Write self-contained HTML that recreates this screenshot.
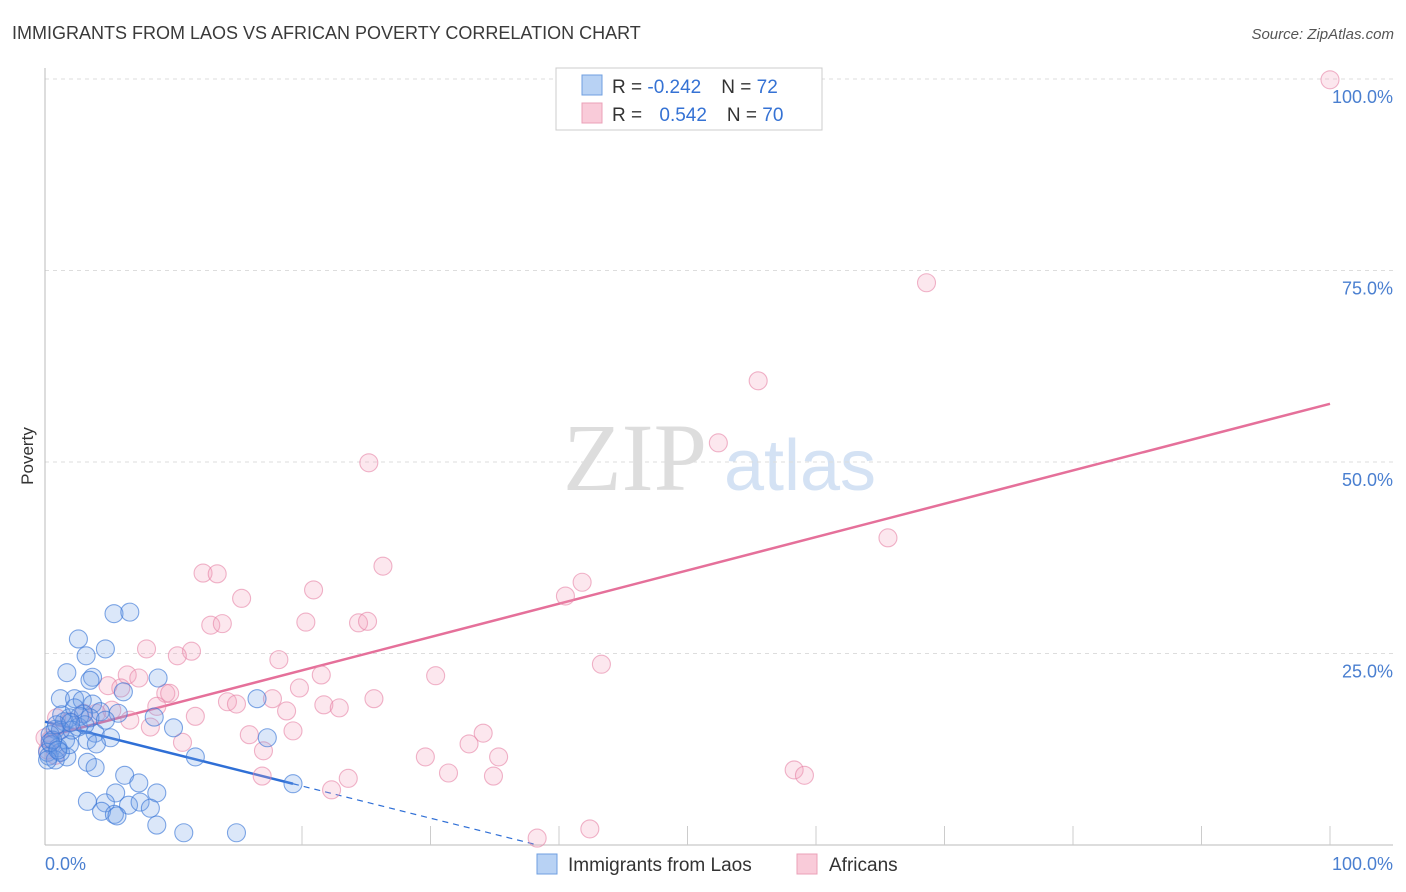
<!DOCTYPE html>
<html><head><meta charset="utf-8"><style>
body{margin:0;background:#fff;font-family:"Liberation Sans",sans-serif;}
svg{display:block}
</style></head><body>
<svg id="chart" width="1406" height="892" xmlns="http://www.w3.org/2000/svg">
<text x="12" y="39" font-size="18" fill="#3a3a3a">IMMIGRANTS FROM LAOS VS AFRICAN POVERTY CORRELATION CHART</text>
<text x="1394" y="39" font-size="15" fill="#555" text-anchor="end" font-style="italic">Source: ZipAtlas.com</text>
<text transform="translate(33,456) rotate(-90)" font-size="17" fill="#333" text-anchor="middle">Poverty</text>
<g>
<text x="635" y="490" font-size="96" fill="#ddd" font-family="Liberation Serif,serif" text-anchor="middle">ZIP</text>
<text x="800" y="490" font-size="72" fill="#d4e2f4" text-anchor="middle">atlas</text>
</g>
<g id="grid"></g><g id="axes"></g><g id="trends"></g><g id="points"></g>
<g>
<rect x="556" y="68" width="266" height="62" fill="#fff" stroke="#ccc"/>
<rect x="582" y="75" width="20" height="20" fill="#b8d2f4" stroke="#6f9fe0"/>
<rect x="582" y="103" width="20" height="20" fill="#f9cbd9" stroke="#eba0b8"/>
<text x="612" y="93" font-size="19" fill="#333">R = <tspan fill="#3572d4">-0.242</tspan><tspan dx="20">N = </tspan><tspan fill="#3572d4">72</tspan></text>
<text x="612" y="121" font-size="19" fill="#333">R = <tspan fill="#3572d4" dx="12">0.542</tspan><tspan dx="20">N = </tspan><tspan fill="#3572d4">70</tspan></text>
</g>
<g>
<rect x="537" y="854" width="20" height="20" fill="#b8d2f4" stroke="#6f9fe0"/>
<text x="568" y="871" font-size="19" fill="#333">Immigrants from Laos</text>
<rect x="797" y="854" width="20" height="20" fill="#f9cbd9" stroke="#eba0b8"/>
<text x="829" y="871" font-size="19" fill="#333">Africans</text>
</g>
</svg>
<script>
const laosX=[5.37,6.6,2.6,4.7,3.2,1.7,3.7,3.5,6.1,1.2,2.3,2.9,3.7,8.8,16.5,5.7,8.5,1.9,3.0,4.3,1.5,2.6,10.0,0.8,1.2,3.9,5.1,3.3,4.0,1.6,0.4,0.5,1.0,0.2,0.3,1.7,11.7,3.3,3.9,17.3,6.2,7.3,5.5,8.7,3.3,4.7,6.5,4.4,7.4,8.2,5.4,8.7,10.8,14.9,19.3,0.8,1.2,0.4,1.9,1.3,2.7,3.5,2.3,0.2,0.6,0.9,2.1,3.1,4.7,5.6,2.0,1.0];
const laosY=[30.2,30.4,26.9,25.6,24.7,22.5,21.9,21.5,20.0,19.1,19.1,18.9,18.4,21.8,19.1,17.2,16.7,16.6,17.1,17.4,16.1,15.4,15.3,15.1,15.0,14.6,14.0,13.7,13.2,13.7,14.4,13.1,12.7,12.1,11.6,11.5,11.5,10.8,10.1,14.0,9.1,8.1,6.8,6.8,5.7,5.5,5.2,4.4,5.6,4.8,4.0,2.6,1.6,1.6,8.0,11.1,12.1,13.4,13.1,17.0,16.8,16.6,17.9,11.1,13.7,15.7,15.0,15.7,16.3,3.8,16.0,12.4];
const afrX=[100,68.6,55.5,52.4,25.2,65.6,26.3,41.8,12.3,13.4,15.3,20.9,40.5,12.9,13.8,20.3,24.4,25.1,7.9,11.4,10.3,18.2,43.3,6.4,7.3,21.5,30.4,19.8,4.9,5.9,9.4,9.7,17.7,25.6,14.2,14.9,8.7,18.8,21.7,22.9,5.2,4.0,3.0,11.7,6.6,8.2,15.9,19.3,34.1,10.7,33.0,17.0,35.3,29.6,31.4,34.9,23.6,16.9,58.3,59.1,22.3,42.4,38.3,0.9,1.2,0.4,0.8,0.2,1.9,0];
const afrY=[99.9,73.4,60.6,52.5,49.9,40.1,36.4,34.3,35.5,35.4,32.2,33.3,32.5,28.7,28.9,29.1,29.0,29.2,25.6,25.3,24.7,24.2,23.6,22.2,21.8,22.2,22.1,20.5,20.8,20.5,19.8,19.8,19.1,19.1,18.7,18.4,18.1,17.5,18.3,17.9,17.6,17.2,17.2,16.8,16.3,15.4,14.4,14.9,14.6,13.4,13.2,12.3,11.5,11.5,9.4,9.0,8.7,9.0,9.8,9.1,7.2,2.1,0.9,16.6,15.0,13.7,11.7,12.4,16.1,14.0];
const trendIntercept=[16.1,14.1];
const trendSlope=[-0.42,0.435];
const yTicks=[25,50,75,100];
const yTickLabels=["25.0%","50.0%","75.0%","100.0%"];
const xTicks=[20,30,40,50,60,70,80,90,100];

const NS="http://www.w3.org/2000/svg";
const sx=v=>45+v*12.85;
const sy=v=>845-v*7.66;
function mk(tag,attrs,parent){const e=document.createElementNS(NS,tag);for(const k in attrs)e.setAttribute(k,attrs[k]);parent.appendChild(e);return e;}
const grid=document.getElementById('grid'),axes=document.getElementById('axes'),trends=document.getElementById('trends'),pts=document.getElementById('points');
yTicks.forEach((t,i)=>{
 const l=mk('line',{x1:45,x2:1393,y1:sy(t),y2:sy(t),stroke:'#ddd','stroke-dasharray':'4,4'},grid);
 
 
 const tx=mk('text',{x:1393,y:sy(t)+24,'font-size':18,fill:'#4a7fd0','text-anchor':'end'},grid);
 tx.textContent=yTickLabels[i];
 
 
});
const xa=mk('line',{x1:45,x2:1393,y1:845,y2:845,stroke:'#bbb'},axes);


const ya=mk('line',{x1:45,x2:45,y1:68,y2:845,stroke:'#bbb'},axes);


xTicks.forEach(t=>{const l=mk('line',{x1:sx(t),x2:sx(t),y1:826,y2:845,stroke:'#ccc'},axes);
 
 });
const x0=mk('text',{x:45,y:870,'font-size':18,fill:'#4a7fd0'},axes);x0.textContent='0.0%';


const x1=mk('text',{x:1393,y:870,'font-size':18,fill:'#4a7fd0','text-anchor':'end'},axes);x1.textContent='100.0%';



function dots(xs,ys,fill,stroke,name){xs.forEach((x,i)=>{const c=mk('circle',{cx:sx(x),cy:sy(ys[i]),r:9,fill:fill,stroke:stroke,'stroke-width':1.1},pts);
 
 });}
dots(afrX,afrY,'rgba(242,160,188,0.25)','rgba(230,130,165,0.6)','africans-point');
dots(laosX,laosY,'rgba(110,160,230,0.25)','rgba(60,120,215,0.65)','laos-point');

const bmax=Math.max(...laosX);
const bl=mk('line',{x1:sx(0),y1:sy(trendIntercept[0]),x2:sx(bmax),y2:sy(trendIntercept[0]+trendSlope[0]*bmax),stroke:'#2f6fd6','stroke-width':2.5},trends);


const xz=-trendIntercept[0]/trendSlope[0];
const bd=mk('line',{x1:sx(bmax),y1:sy(trendIntercept[0]+trendSlope[0]*bmax),x2:sx(xz),y2:sy(0),stroke:'#2f6fd6','stroke-width':1.2,'stroke-dasharray':'6,5'},trends);


const pl=mk('line',{x1:sx(0),y1:sy(trendIntercept[1]),x2:sx(100),y2:sy(trendIntercept[1]+trendSlope[1]*100),stroke:'#e5709a','stroke-width':2.5},trends);


</script>
</body></html>
